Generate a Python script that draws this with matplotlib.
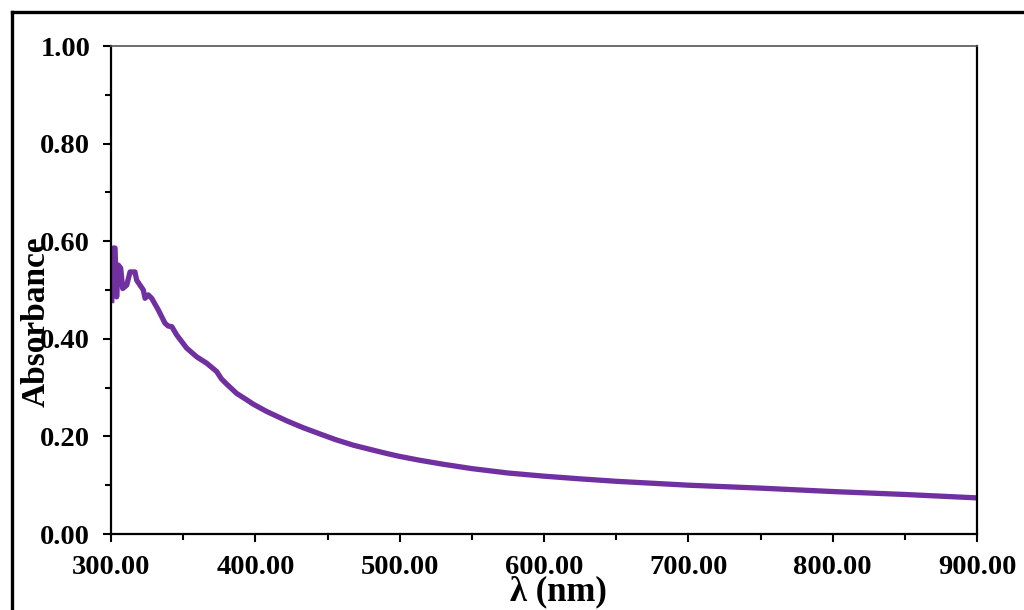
import matplotlib
matplotlib.use("Agg")
import matplotlib.pyplot as plt
from matplotlib.ticker import MultipleLocator, FormatStrFormatter
from matplotlib.lines import Line2D

wavelength_nm = [300.5, 301.6, 302.8, 303.9, 305.1, 306.7, 308.1, 310.9, 313.2, 316.6,
                 317.8, 320.1, 322.4, 323.6, 325.8, 328.2, 332.8, 337.4, 339.7, 342.1,
                 345.5, 352.4, 359.4, 366.3, 373.2, 376.5, 380.2, 387.1, 394.0, 398.6,
                 407.9, 421.7, 433.0, 444.8, 456.0, 467.9, 480.0, 491.0, 500.0, 514.1,
                 530.0, 550.0, 575.0, 600.0, 625.0, 650.0, 675.0, 700.0, 750.0, 800.0,
                 850.0, 900.0]
absorbance = [0.473, 0.586, 0.586, 0.486, 0.551, 0.545, 0.503, 0.510, 0.537, 0.537,
              0.520, 0.510, 0.500, 0.483, 0.490, 0.483, 0.459, 0.432, 0.426, 0.425,
              0.408, 0.381, 0.363, 0.350, 0.333, 0.318, 0.307, 0.288, 0.275, 0.266,
              0.251, 0.232, 0.218, 0.205, 0.193, 0.182, 0.173, 0.165, 0.159, 0.151,
              0.143, 0.134, 0.125, 0.1185, 0.113, 0.108, 0.104, 0.100, 0.094, 0.087,
              0.081, 0.074]

x_ticks = [300, 400, 500, 600, 700, 800, 900]
y_ticks = [0.0, 0.2, 0.4, 0.6, 0.8, 1.0]

plt.rcParams['font.family'] = ['Liberation Serif', 'DejaVu Serif']
plt.rcParams['font.weight'] = 'bold'

W, H = 1024, 610
fig = plt.figure(figsize=(W / 100, H / 100), dpi=100)
ax = fig.add_axes([111 / W, 1 - 534 / H, (977 - 111) / W, (534 - 46) / H])

ax.plot(wavelength_nm, absorbance, color='#7030A0', lw=3.8, solid_joinstyle='round',
        solid_capstyle='butt')

ax.set_xlim(300, 900)
ax.set_ylim(0, 1.0)
ax.set_xticks(x_ticks)
ax.set_yticks(y_ticks)
ax.xaxis.set_minor_locator(MultipleLocator(50))
ax.yaxis.set_minor_locator(MultipleLocator(0.1))
ax.xaxis.set_major_formatter(FormatStrFormatter('%.2f'))
ax.yaxis.set_major_formatter(FormatStrFormatter('%.2f'))

ax.tick_params(which='major', direction='out', length=6, width=1.5, labelsize=20.5, pad=9)
ax.tick_params(axis='y', which='major', pad=9)
ax.tick_params(which='minor', direction='out', length=4.5, width=1.5)
for lbl in ax.get_xticklabels() + ax.get_yticklabels():
    lbl.set_fontweight('bold')

for side in ['left', 'bottom', 'right']:
    ax.spines[side].set_linewidth(1.6)
    ax.spines[side].set_color('black')
ax.spines['top'].set_linewidth(1.2)
ax.spines['top'].set_color('#555555')

fig.text(558 / W, 1 - 592 / H, 'λ (nm)', ha='center', va='center', fontsize=25,
         fontweight='bold')
fig.text(36 / W, 1 - 322 / H, 'Absorbance', ha='center', va='center', rotation=90,
         fontsize=24, fontweight='bold')

# outer frame (left and top edges visible)
fx, fy = 12 / W, 1 - 12 / H
fig.add_artist(Line2D([fx, fx], [-0.01, fy], transform=fig.transFigure, color='black', lw=2.4))
fig.add_artist(Line2D([fx, 1.01], [fy, fy], transform=fig.transFigure, color='black', lw=2.4))

fig.savefig('out.png', dpi=100)
